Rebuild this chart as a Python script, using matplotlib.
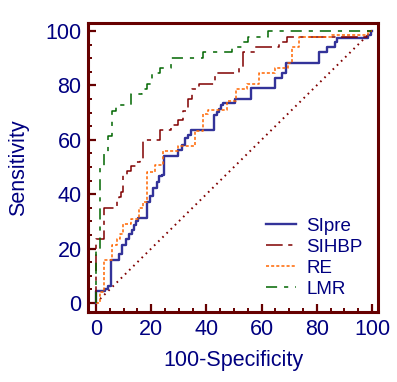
import matplotlib
matplotlib.use("Agg")
import matplotlib.pyplot as plt

plt.rcParams['font.family'] = ['Liberation Sans', 'DejaVu Sans']
plt.rcParams['lines.scale_dashes'] = False

# ROC operating points (100-Specificity, Sensitivity), drawn as steps
sipre_x = [0, 3.3, 4.3, 5.6, 8.4, 9.5, 10.9, 12.1, 12.9, 13.9, 14.6, 15.3, 18.5, 19.6,
           20.8, 22.0, 22.9, 23.8, 24.6, 29.9, 31.2, 32.3, 33.2, 34.4, 42.8, 43.7, 44.4,
           45.3, 46.1, 50.2, 56.0, 64.9, 67.3, 68.8, 80.9, 83.6, 86.6, 87.4, 98.7, 99.5, 100]
sipre_y = [0, 4.4, 5.2, 6.4, 15.8, 17.9, 21.3, 23.4, 25.4, 26.8, 28.7, 30.3, 31.3, 37.3,
           39.5, 42.2, 44.6, 46.7, 47.2, 54.1, 56.3, 58.2, 60.5, 61.8, 63.6, 69.2, 70.2,
           71.2, 72.8, 73.5, 75.1, 78.9, 82.6, 84.4, 88.3, 92.4, 94.2, 95.8, 97.5, 98.5, 100]

sihbp_x = [0, 3.0, 7.5, 8.3, 8.9, 9.9, 11.4, 12.7, 14.4, 15.8, 17.0, 23.3, 27.3, 29.7,
           31.5, 33.2, 34.7, 37.3, 43.1, 51.9, 53.4, 57.8, 66.4, 69.2, 98.1, 100]
sihbp_y = [0, 23.4, 34.8, 37.5, 39.0, 40.7, 47.2, 48.7, 50.3, 52.0, 52.8, 59.9, 63.6, 65.4,
           67.3, 70.7, 75.0, 78.7, 80.4, 84.4, 86.3, 92.3, 94.0, 95.8, 97.6, 100]

re_x = [0, 1.4, 2.9, 5.9, 7.5, 8.7, 9.9, 12.7, 15.7, 17.1, 18.6, 21.4, 24.4, 29.8, 36.0,
        38.9, 40.6, 47.3, 50.6, 54.6, 59.2, 64.9, 69.5, 70.9, 73.7, 85.4, 98.5, 100]
re_y = [0, 0, 4.2, 15.8, 21.3, 23.4, 25.4, 29.0, 30.8, 34.8, 37.2, 48.0, 50.6, 56.0, 57.6,
        63.4, 69.5, 71.0, 74.4, 78.8, 80.4, 84.4, 86.3, 88.1, 94.0, 97.6, 98.6, 100]

lmr_x = [0, 1.5, 2.9, 4.3, 5.8, 7.4, 12.8, 16.8, 18.6, 20.4, 23.3, 27.3, 38.9, 49.2,
         53.4, 55.2, 62.2, 100]
lmr_y = [0, 20.0, 49.5, 55.2, 61.4, 70.6, 72.8, 76.7, 78.6, 80.4, 84.4, 86.4, 90.0, 92.2,
         94.0, 95.8, 97.6, 100]

ticks = [0, 20, 40, 60, 80, 100]

navy = '#000080'
maroon = '#660000'

fig = plt.figure(figsize=(3.97, 3.82), dpi=100)
ax = fig.add_axes([0.2229, 0.1832, 0.728, 0.7565])

# reference diagonal
ax.plot([0, 100], [0, 100], color='#800000', lw=1.4, dashes=(1.2, 3.0))

ax.step(sipre_x, sipre_y, where='pre', color='#333399', lw=1.7, label='SIpre')
ax.step(sihbp_x, sihbp_y, where='pre', color='#800000', lw=1.1,
        dashes=(12, 4, 3, 4), label='SIHBP')
ax.step(re_x, re_y, where='pre', color='#FF6600', lw=1.1,
        dashes=(2.2, 1.5), label='RE')
ax.step(lmr_x, lmr_y, where='pre', color='#006600', lw=1.1,
        dashes=(8, 5, 3, 5), label='LMR')

ax.set_xlim(-2.7, 102)
ax.set_ylim(-3.3, 102.9)
ax.set_xticks(ticks)
ax.set_yticks(ticks)
ax.set_xticks(range(0, 101, 5), minor=True)
ax.set_yticks(range(0, 101, 5), minor=True)

for sp in ax.spines.values():
    sp.set_color(maroon)
    sp.set_linewidth(2.2)

ax.tick_params(which='major', direction='in', length=5.5, width=1.6, color=maroon,
               labelcolor=navy, labelsize=15.5, pad=5)
ax.tick_params(which='minor', direction='in', length=3, width=1.4, color=maroon)

ax.set_xlabel('100-Specificity', color=navy, fontsize=15.5, labelpad=7)
ax.set_ylabel('Sensitivity', color=navy, fontsize=15.5, labelpad=12)

leg = ax.legend(loc='center left', bbox_to_anchor=(0.614, 0.188), frameon=False,
                fontsize=13.5, handlelength=1.6, handletextpad=0.55, labelspacing=0.2,
                borderpad=0, borderaxespad=0)
for t in leg.get_texts():
    t.set_color(navy)

plt.savefig('out.png', dpi=100)
